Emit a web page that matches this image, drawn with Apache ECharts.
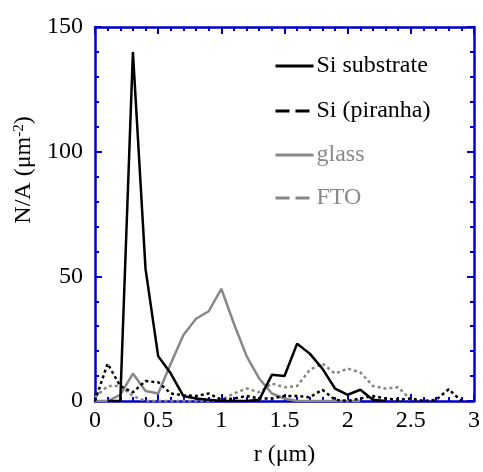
<!DOCTYPE html>
<html>
<head>
    <meta charset="utf-8"/>
    <style>
        html, body {
            height: 100%;
            margin: 0;
            padding: 0;
            background: #ffffff;
        }
        .container {
            width: 483px;
            height: 472px;
        }
    </style>
</head>
<body>
<div id="main" class="container"></div>
<script src="https://cdn.jsdelivr.net/npm/echarts@6/dist/echarts.min.js"></script>
<script type="text/javascript">
    // radius (um)
    var rValues = [0, 0.1, 0.2, 0.3, 0.4, 0.5, 0.6, 0.7, 0.8, 0.9,
        1.0, 1.1, 1.2, 1.3, 1.4, 1.5, 1.6, 1.7, 1.8, 1.9,
        2.0, 2.1, 2.2, 2.3, 2.4, 2.5, 2.6, 2.7, 2.8, 2.9];
    var siSubstrate = [null, 0, 0, 140, 53, 18, 11, 2, 1, 0.5,
        0, 0, 0, 0.5, 10.5, 10, 23, 19, 13, 5,
        2.5, 4.5, 0.5, 0, null, null, null, null, null, null];
    var siPiranha = [0, 15, 6, 3.5, 8, 7.5, 3, 2.3, 2, 3,
        0.5, 1, 2, 1, 1, 2, 2, 1.5, 4.5, 0.5,
        0, 1, 2, 1, 0.5, 1, 0, 0.5, 4.7, 0];
    var glass = [0, 0, 2.5, 11, 4, 3, 15, 26.5, 33, 36,
        45, 31, 18, 9, 3, 1, 0, 0, 0, 0,
        0, 0, null, null, null, null, null, null, null, null];
    var fto = [1.5, 6, 6, 2, 0, 0, 0, 0, 0, 0,
        0.5, 3, 5, 3.5, 7, 5.5, 6, 12.5, 15, 11,
        13, 11.5, 6, 5, 5.5, 0.5, null, null, null, null];
    var xTicks = [0, 0.5, 1, 1.5, 2, 2.5, 3];
    var yTicks = [0, 50, 100, 150];

    var axisBlue = '#0000cc';
    var font = 'Liberation Serif, Times New Roman, serif';

    function pairs(vals) {
        var out = [];
        for (var i = 0; i < rValues.length; i++) {
            out.push([rValues[i], vals[i]]);
        }
        return out;
    }

    function frameAxis(pos, isX, showLabel) {
        var ax = {
            type: 'value',
            position: pos,
            min: isX ? xTicks[0] : yTicks[0],
            max: isX ? xTicks[xTicks.length - 1] : yTicks[yTicks.length - 1],
            interval: isX ? 0.5 : 50,
            axisLine: {show: true, onZero: false, lineStyle: {color: axisBlue, width: 2.5}},
            axisTick: {show: true, inside: true, length: 7, lineStyle: {color: axisBlue, width: 2}},
            minorTick: {show: true, splitNumber: 5, length: 4, lineStyle: {color: axisBlue, width: 2}},
            splitLine: {show: false},
            axisLabel: {
                show: showLabel,
                color: '#000',
                fontFamily: font,
                fontSize: 24,
                margin: isX ? 8 : 12
            }
        };
        return ax;
    }

    var myChart = echarts.init(document.getElementById('main'));

    var xBottom = frameAxis('bottom', true, true);
    xBottom.name = 'r (\u03bcm)';
    xBottom.nameLocation = 'middle';
    xBottom.nameGap = 42;
    xBottom.nameTextStyle = {color: '#000', fontFamily: font, fontSize: 24};

    var legendRows = [
        {name: 'Si substrate', top: 66, color: '#000', dash: 'solid', lc: '#000'},
        {name: 'Si (piranha)', top: 111, color: '#000', dash: [14, 6], lc: '#000'},
        {name: 'glass', top: 155, color: '#888', dash: 'solid', lc: '#888'},
        {name: 'FTO', top: 198, color: '#888', dash: [14, 6], lc: '#888'}
    ];
    var legends = legendRows.map(function (row) {
        return {
            data: [row.name],
            left: 274,
            top: row.top - 12,
            padding: 0,
            itemWidth: 38,
            itemHeight: 24,
            itemGap: 0,
            selectedMode: false,
            itemStyle: {opacity: 0},
            lineStyle: {type: row.dash, width: 3, color: row.lc},
            textStyle: {color: row.color, fontFamily: font, fontSize: 24, lineHeight: 24, padding: [0, 0, 0, -2]}
        };
    });

    var option = {
        animation: false,
        grid: {left: 95, right: 5, top: 27, bottom: 61, containLabel: false},
        xAxis: [xBottom, frameAxis('top', true, false)],
        yAxis: [frameAxis('left', false, true), frameAxis('right', false, false)],
        legend: legends,
        graphic: [{
            type: 'text',
            x: 24,
            y: 170,
            rotation: Math.PI / 2,
            style: {
                text: 'N/A (\u03bcm{sup|-2})',
                fill: '#000',
                font: '24px ' + font,
                align: 'center',
                verticalAlign: 'middle',
                rich: {
                    sup: {fontSize: 15, fontFamily: font, fill: '#000', verticalAlign: 'top', padding: [0, 0, 10, 0]}
                }
            }
        }],
        series: [
            {
                name: 'FTO', type: 'line', symbol: 'none', data: pairs(fto), z: 2,
                itemStyle: {color: '#888'},
                lineStyle: {color: '#888', width: 2.5, type: [3, 3]}
            },
            {
                name: 'glass', type: 'line', symbol: 'none', data: pairs(glass), z: 3,
                itemStyle: {color: '#888'},
                lineStyle: {color: '#888', width: 2.5}
            },
            {
                name: 'Si (piranha)', type: 'line', symbol: 'none', data: pairs(siPiranha), z: 4,
                itemStyle: {color: '#000'},
                lineStyle: {color: '#000', width: 2.5, type: [3, 3]}
            },
            {
                name: 'Si substrate', type: 'line', symbol: 'none', data: pairs(siSubstrate), z: 5,
                itemStyle: {color: '#000'},
                lineStyle: {color: '#000', width: 2.5}
            }
        ]
    };
    myChart.setOption(option);
</script>
</body>
</html>
